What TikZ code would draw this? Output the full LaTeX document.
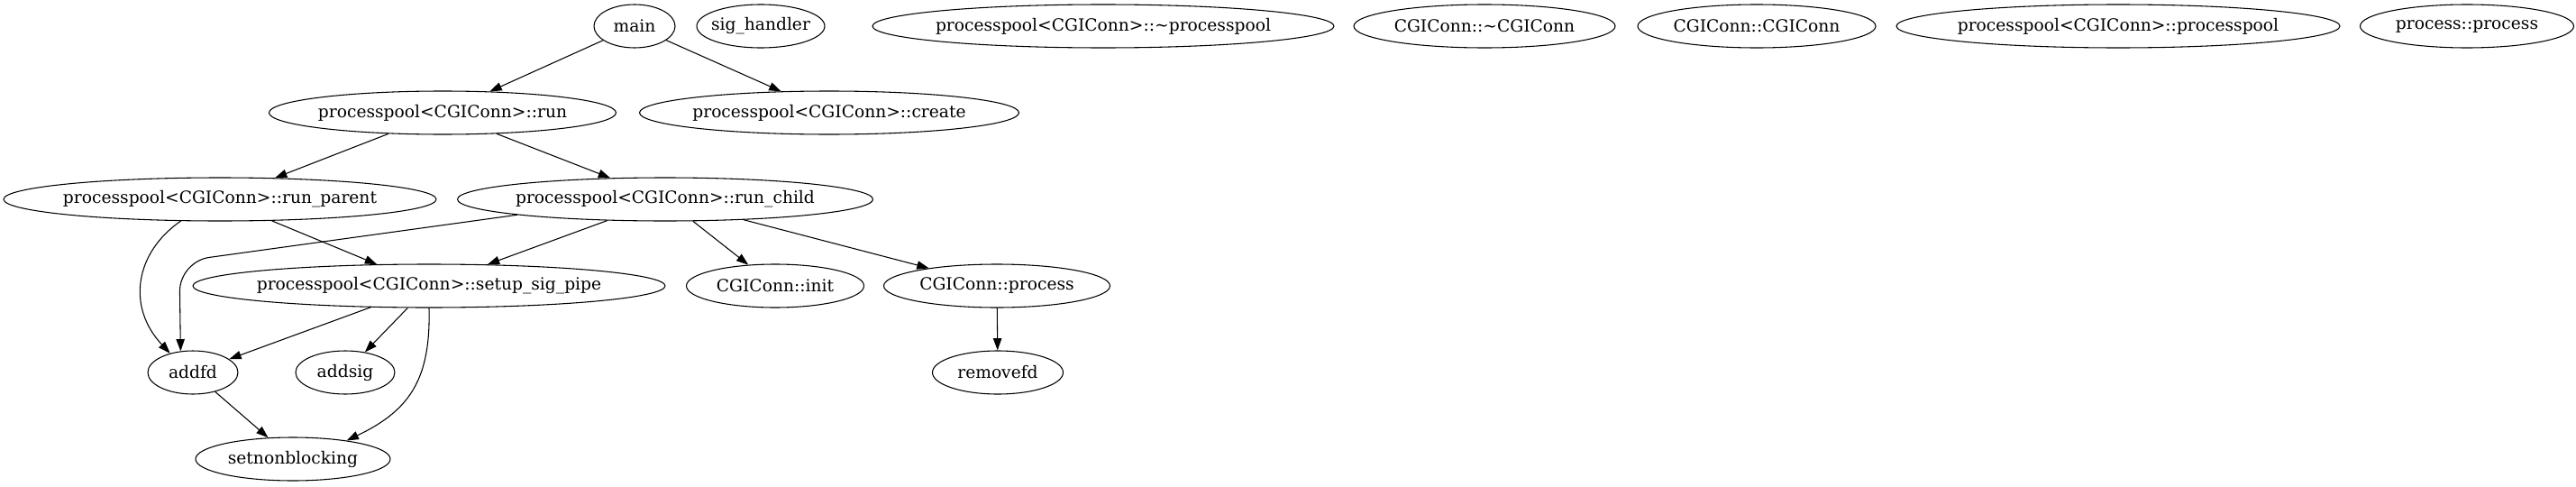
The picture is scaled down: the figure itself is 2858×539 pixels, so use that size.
\documentclass[tikz,border=0pt]{standalone}
\usepackage{fontspec}
\setmainfont{DejaVu Serif}
\usetikzlibrary{shapes.geometric, arrows.meta}
\newcommand{\fname}[1]{\makebox[0pt]{#1}}

\begin{document}
\begin{tikzpicture}[
    x=0.75pt, y=-0.75pt,
    fn/.style={ellipse, draw, line width=0.8pt, inner sep=0pt, minimum height=36pt, minimum width=#1*0.75pt, font=\fontsize{14}{16}\selectfont},
    call/.style={-{Triangle[length=10pt, width=7pt]}, line width=0.8pt}
]
\useasboundingbox (0,0) rectangle (2858,539);

\node[fn=90] (main) at (704,29) {\fname{main}};
\node[fn=142] (sighandler) at (844,29) {\fname{sig\_handler}};
\node[fn=512] (pooldtor) at (1224,29) {\fname{processpool<CGIConn>::\textasciitilde processpool}};
\node[fn=290] (conndtor) at (1647,29) {\fname{CGIConn::\textasciitilde CGIConn}};
\node[fn=264] (connctor) at (1949,29) {\fname{CGIConn::CGIConn}};
\node[fn=492] (poolctor) at (2350,29) {\fname{processpool<CGIConn>::processpool}};
\node[fn=237] (procctor) at (2737,29) {\fname{process::process}};

\node[fn=385] (run) at (491,125) {\fname{processpool<CGIConn>::run}};
\node[fn=421] (create) at (920,125) {\fname{processpool<CGIConn>::create}};

\node[fn=480] (rparent) at (244,221) {\fname{processpool<CGIConn>::run\_parent}};
\node[fn=461] (rchild) at (738,221) {\fname{processpool<CGIConn>::run\_child}};

\node[fn=524] (setup) at (476,317) {\fname{processpool<CGIConn>::setup\_sig\_pipe}};
\node[fn=197] (init) at (860,317) {\fname{CGIConn::init}};
\node[fn=251] (process) at (1106,317) {\fname{CGIConn::process}};

\node[fn=100] (addfd) at (214,413) {\fname{addfd}};
\node[fn=110] (addsig) at (383,413) {\fname{addsig}};
\node[fn=145] (removefd) at (1107,413) {\fname{removefd}};

\node[fn=216] (setnb) at (325,509) {\fname{setnonblocking}};

\draw[call] (main) -- (run);
\draw[call] (main) -- (create);
\draw[call] (run) -- (rparent);
\draw[call] (run) -- (rchild);
\draw[call] (rparent.209) .. controls (150,280) and (140,340) .. (addfd.140);
\draw[call] (rparent) -- (setup);
\draw[call, rounded corners=25] (rchild.186) -- (199,290) -- (addfd.120);
\draw[call] (rchild) -- (setup);
\draw[call] (rchild) -- (init);
\draw[call] (rchild) -- (process);
\draw[call] (setup) -- (addfd);
\draw[call] (setup) -- (addsig);
\draw[call] (setup.south) .. controls (478,420) and (455,455) .. (setnb.19);
\draw[call] (addfd) -- (setnb);
\draw[call] (process) -- (removefd);

\end{tikzpicture}
\end{document}
